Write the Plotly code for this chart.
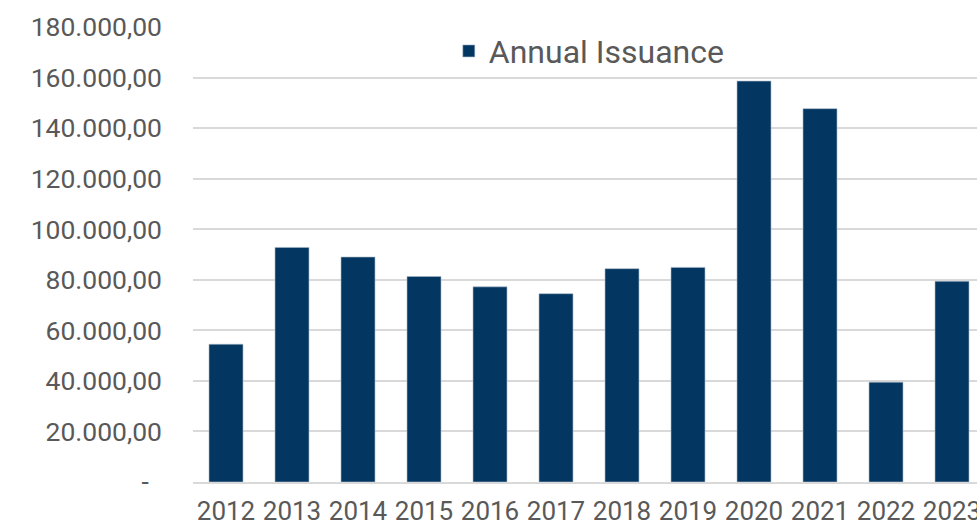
import plotly.graph_objects as go

# Annual issuance by year
years = ["2012", "2013", "2014", "2015", "2016", "2017",
         "2018", "2019", "2020", "2021", "2022", "2023"]
issuance = [54500, 92800, 89000, 81300, 77200, 74500,
            84400, 84900, 158600, 147700, 39500, 79400]

# Value axis ticks (European number format, dash for zero)
y_tickvals = [0, 20000, 40000, 60000, 80000, 100000, 120000, 140000, 160000, 180000]
y_ticktext = ["-\u00a0\u00a0", "20.000,00", "40.000,00", "60.000,00", "80.000,00",
              "100.000,00", "120.000,00", "140.000,00", "160.000,00", "180.000,00"]

BAR_COLOR = "#033762"
TEXT_COLOR = "#595959"
GRID_COLOR = "#D9D9D9"
FONT = "Roboto"

fig = go.Figure(
    go.Bar(
        x=years,
        y=issuance,
        name="Annual Issuance",
        marker=dict(color=BAR_COLOR, line=dict(color="#A9B8C8", width=0.6)),
        showlegend=True,
    )
)

fig.update_layout(
    width=977,
    height=526,
    margin=dict(l=193, r=0, t=27, b=44, pad=0),
    paper_bgcolor="white",
    plot_bgcolor="white",
    font=dict(family=FONT, color=TEXT_COLOR, size=26),
    bargap=0.485,
    showlegend=True,
    legend=dict(
        orientation="h",
        x=0.5055,
        xanchor="center",
        y=0.947,
        yanchor="middle",
        font=dict(family=FONT, size=32, color=TEXT_COLOR),
        bgcolor="rgba(255,255,255,0)",
        itemwidth=30,
    ),
)

fig.update_xaxes(
    type="category",
    range=[-0.5, -0.5 + 784 / 66],
    showgrid=False,
    showline=True,
    linecolor=GRID_COLOR,
    linewidth=2,
    ticks="",
    tickfont=dict(family=FONT, size=26, color=TEXT_COLOR),
    ticklabelstandoff=5,
    automargin=False,
)

fig.update_yaxes(
    range=[0, 180000],
    tickvals=y_tickvals,
    ticktext=y_ticktext,
    showgrid=True,
    gridcolor=GRID_COLOR,
    gridwidth=1.5,
    zeroline=False,
    showline=False,
    ticks="",
    tickfont=dict(family=FONT, size=26.5, color=TEXT_COLOR),
    ticklabelstandoff=30,
    automargin=False,
)

fig.write_html("out.html")
